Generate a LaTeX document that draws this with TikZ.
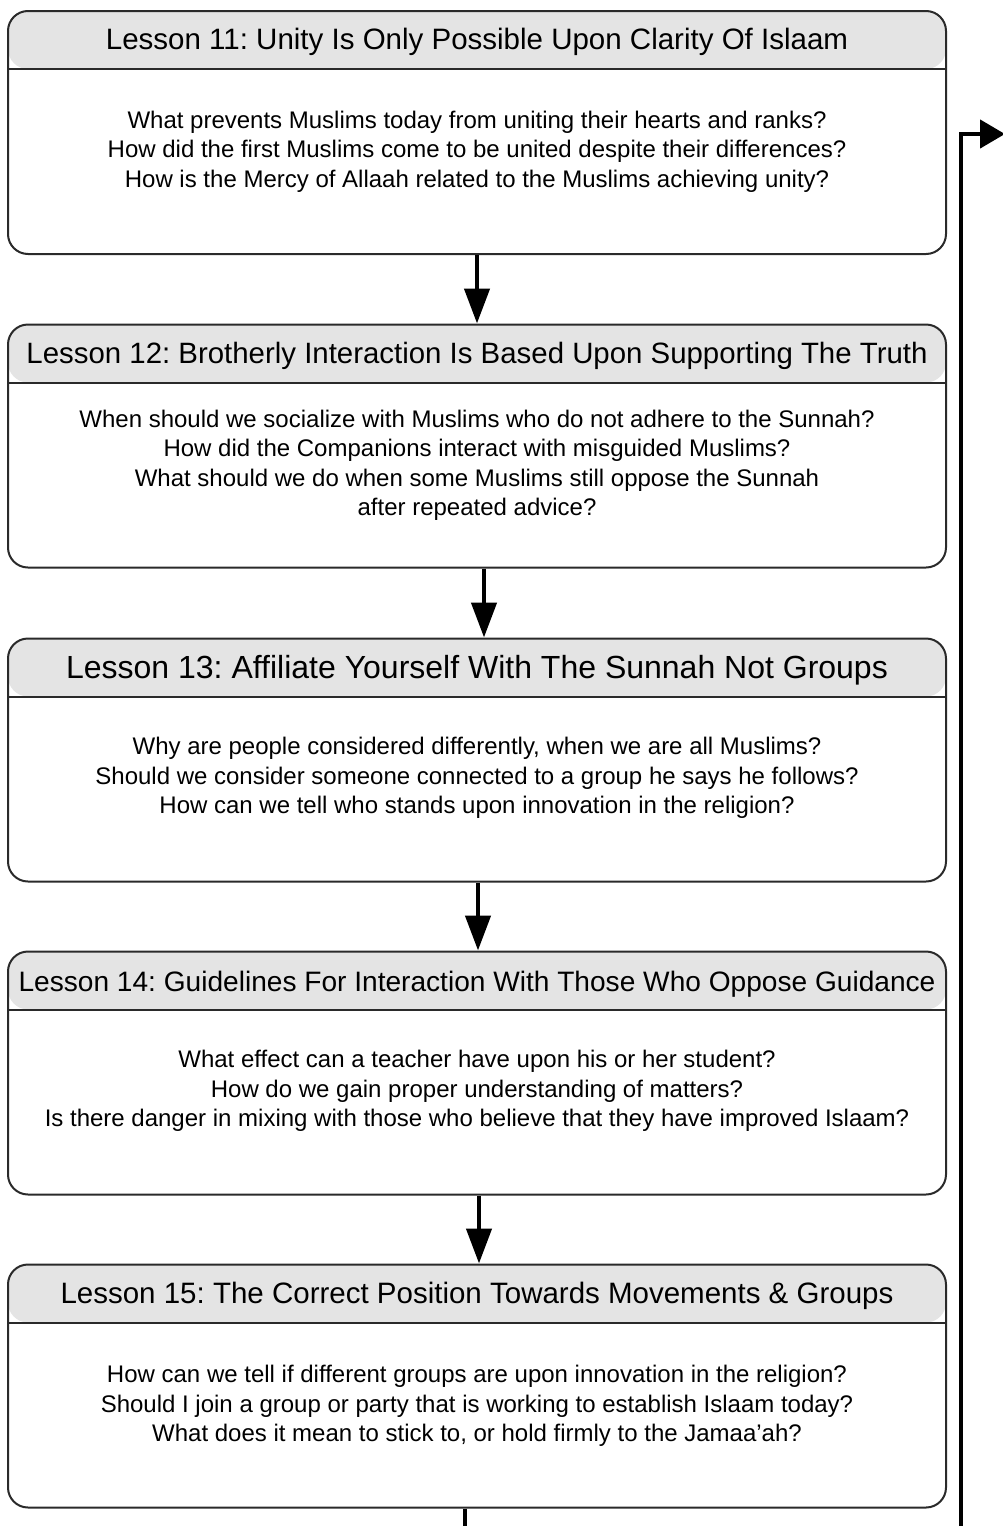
\documentclass[tikz,border=0pt]{standalone}
\usepackage{fontspec}
\setmainfont{Liberation Sans}
\usetikzlibrary{arrows.meta}
\frenchspacing
\definecolor{hdrgray}{HTML}{E4E4E4}
\definecolor{edge}{HTML}{2A2A2A}
\tikzset{
  lessonbox/.style={draw=edge, line width=2pt, rounded corners=20pt,
    minimum width=938pt, minimum height=243pt, inner sep=0pt,
    path picture={
      \fill[hdrgray] (path picture bounding box.north west) rectangle
        ([yshift=-58pt]path picture bounding box.north east);
      \draw[edge, line width=2pt] ([yshift=-58pt]path picture bounding box.north west) --
        ([yshift=-58pt]path picture bounding box.north east);
    }},
  headtext/.style={inner sep=0pt, text=black},
  bodytext/.style={inner sep=0pt, align=center, text=black,
    font=\fontsize{24}{29.5}\selectfont},
  flow/.style={line width=4.5pt, -{Triangle[length=35pt,width=25pt]}},
  backline/.style={line width=4.5pt},
}
\begin{document}
\begin{tikzpicture}[x=1pt, y=-1pt]
\useasboundingbox (0,0) rectangle (1003,1526);

% lesson boxes
\node[lessonbox] (b11) at (477,132.5) {};
\node[lessonbox] (b12) at (477,446) {};
\node[lessonbox] (b13) at (477,760) {};
\node[lessonbox] (b14) at (477,1073) {};
\node[lessonbox] (b15) at (477,1386) {};

% titles
\node[headtext, font=\fontsize{29.5}{33}\selectfont] (h11) at (477,42)
  {Lesson 11: Unity Is Only Possible Upon Clarity Of Islaam};
\node[headtext, font=\fontsize{29.4}{33}\selectfont] (h12) at (477,356)
  {Lesson 12: Brotherly Interaction Is Based Upon Supporting The Truth};
\node[headtext, font=\fontsize{32}{36}\selectfont] (h13) at (477,670)
  {Lesson 13: Affiliate Yourself With The Sunnah Not Groups};
\node[headtext, font=\fontsize{28.1}{32}\selectfont] (h14) at (477,984)
  {Lesson 14: Guidelines For Interaction With Those Who Oppose Guidance};
\node[headtext, font=\fontsize{29.5}{33}\selectfont] (h15) at (477,1296)
  {Lesson 15: The Correct Position Towards Movements \& Groups};

% questions
\node[bodytext] (q11) at (477,151.5) {What prevents Muslims today from uniting their hearts and ranks?\\
How did the first Muslims come to be united despite their differences?\\
How is the Mercy of Allaah related to the Muslims achieving unity?};
\node[bodytext] (q12) at (477,465.5) {When should we socialize with Muslims who do not adhere to the Sunnah?\\
How did the Companions interact with misguided Muslims?\\
What should we do when some Muslims still oppose the Sunnah\\
after repeated advice?};
\node[bodytext] (q13) at (477,778) {Why are people considered differently, when we are all Muslims?\\
Should we consider someone connected to a group he says he follows?\\
How can we tell who stands upon innovation in the religion?};
\node[bodytext] (q14) at (477,1091) {What effect can a teacher have upon his or her student?\\
How do we gain proper understanding of matters?\\
Is there danger in mixing with those who believe that they have improved Islaam?};
\node[bodytext] (q15) at (477,1406) {How can we tell if different groups are upon innovation in the religion?\\
Should I join a group or party that is working to establish Islaam today?\\
What does it mean to stick to, or hold firmly to the Jamaa'ah?};

% connectors between lessons
\draw[flow] (b11.south) -- (b12.north);
\draw[flow] ([xshift=7pt]b12.south) -- ([xshift=7pt]b13.north);
\draw[flow] ([xshift=1pt]b13.south) -- ([xshift=1pt]b14.north);
\draw[flow] ([xshift=2pt]b14.south) -- ([xshift=2pt]b15.north);

% continuation lines at the page edge
\coordinate (outbot) at (465,1528);
\draw[backline] ([xshift=-12pt]b15.south) -- (outbot);
\coordinate (retbot) at (961,1528);
\coordinate (retcorner) at (961,134);
\coordinate (rettip) at (1005,134);
\draw[line width=4.5pt, miter limit=10, -{Triangle[length=25pt,width=28pt]}]
  (retbot) -- (retcorner) -- (rettip);
\end{tikzpicture}
\end{document}
